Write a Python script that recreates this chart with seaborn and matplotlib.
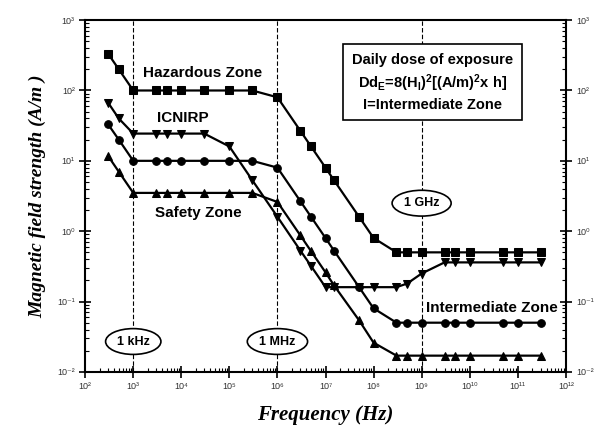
import numpy as np
import pandas as pd
import matplotlib
matplotlib.use("Agg")
import matplotlib.pyplot as plt
import seaborn as sns
from matplotlib.ticker import LogLocator, FixedLocator, FixedFormatter, NullFormatter

# frequencies (Hz) shared by all four curves
freq = [3e2, 5e2, 1e3, 3e3, 5e3, 1e4, 3e4, 1e5, 3e5, 1e6, 3e6, 5e6, 1e7, 1.5e7,
        5e7, 1e8, 3e8, 5e8, 1e9, 3e9, 5e9, 1e10, 5e10, 1e11, 3e11]

hazardous = [333, 200, 100, 100, 100, 100, 100, 100, 100, 80, 26.7, 16, 8, 5.3,
             1.6, 0.8, 0.5, 0.5, 0.5, 0.5, 0.5, 0.5, 0.5, 0.5, 0.5]
icnirp = [67, 40, 24.4, 24.4, 24.4, 24.4, 24.4, 16, 5.3, 1.6, 0.53, 0.32, 0.16, 0.16,
          0.16, 0.16, 0.16, 0.18, 0.25, 0.36, 0.36, 0.36, 0.36, 0.36, 0.36]
intermediate = [33, 20, 10, 10, 10, 10, 10, 10, 10, 8, 2.67, 1.6, 0.8, 0.53,
                0.16, 0.08, 0.05, 0.05, 0.05, 0.05, 0.05, 0.05, 0.05, 0.05, 0.05]
safety = [11.7, 7, 3.5, 3.5, 3.5, 3.5, 3.5, 3.5, 3.5, 2.6, 0.87, 0.52, 0.26, 0.17,
          0.054, 0.026, 0.017, 0.017, 0.017, 0.017, 0.017, 0.017, 0.017, 0.017, 0.017]

xtick_vals = [1e2, 1e3, 1e4, 1e5, 1e6, 1e7, 1e8, 1e9, 1e10, 1e11, 1e12]
xtick_labels = ["10²", "10³", "10⁴", "10⁵", "10⁶", "10⁷", "10⁸", "10⁹", "10¹⁰", "10¹¹", "10¹²"]
ytick_vals = [1e-2, 1e-1, 1e0, 1e1, 1e2, 1e3]
ytick_labels = ["10⁻²", "10⁻¹", "10⁰", "10¹", "10²", "10³"]

df = pd.DataFrame({
    "freq": freq * 4,
    "H": hazardous + icnirp + intermediate + safety,
    "curve": (["Hazardous"] * len(freq) + ["ICNIRP"] * len(freq)
              + ["Intermediate"] * len(freq) + ["Safety"] * len(freq)),
})

sns.set_style("ticks")
plt.rcParams["font.family"] = ["Liberation Sans", "DejaVu Sans"]
plt.rcParams["text.color"] = "black"
plt.rcParams["axes.labelcolor"] = "black"
plt.rcParams["mathtext.fontset"] = "custom"
plt.rcParams["mathtext.rm"] = "Liberation Sans:bold"
plt.rcParams["mathtext.default"] = "rm"

fig, ax = plt.subplots(figsize=(6, 4.38), dpi=100)
fig.subplots_adjust(left=0.142, right=0.943, bottom=0.151, top=0.954)

for f in [1e3, 1e6, 1e9]:
    ax.axvline(f, color="black", lw=0.8, ls=(0, (4, 2)), zorder=1)

sns.lineplot(data=df, x="freq", y="H", hue="curve", style="curve",
             palette=["black"] * 4, dashes=False, sort=False,
             markers={"Hazardous": "s", "ICNIRP": "v", "Intermediate": "o", "Safety": "^"},
             markersize=5.5, markeredgecolor="black", lw=1.6, legend=False, ax=ax, zorder=3)

ax.set_xscale("log")
ax.set_yscale("log")
ax.set_xlim(1e2, 1e12)
ax.set_ylim(1e-2, 1e3)

ax.xaxis.set_major_locator(FixedLocator(xtick_vals))
ax.xaxis.set_major_formatter(FixedFormatter(xtick_labels))
ax.yaxis.set_major_locator(FixedLocator(ytick_vals))
ax.yaxis.set_major_formatter(FixedFormatter(ytick_labels))
ax.xaxis.set_minor_locator(LogLocator(base=10, subs=np.arange(2, 10), numticks=20))
ax.yaxis.set_minor_locator(LogLocator(base=10, subs=np.arange(2, 10), numticks=20))
ax.xaxis.set_minor_formatter(NullFormatter())
ax.yaxis.set_minor_formatter(NullFormatter())

ax.tick_params(which="major", direction="inout", length=8, width=1.2, labelsize=6.5,
               right=True, labelright=True, top=False, color="black", labelcolor="#333333")
ax.tick_params(which="minor", direction="in", length=3, width=0.8,
               right=True, top=False, color="black")
for s in ax.spines.values():
    s.set_linewidth(1.5)
    s.set_color("black")

ax.set_xlabel("Frequency (Hz)", family="Liberation Serif", style="italic",
              weight="bold", fontsize=15, labelpad=10)
ax.set_ylabel("Magnetic field strength (A/m )", family="Liberation Serif", style="italic",
              weight="bold", fontsize=14, labelpad=8)

# zone labels
ax.text(2.8e4, 178, "Hazardous Zone", ha="center", va="center", fontsize=11, weight="bold")
ax.text(1.1e4, 40, "ICNIRP", ha="center", va="center", fontsize=11, weight="bold")
ax.text(2.3e4, 1.8, "Safety Zone", ha="center", va="center", fontsize=11, weight="bold")
ax.text(2.9e10, 0.08, "Intermediate Zone", ha="center", va="center", fontsize=11,
        weight="bold", bbox=dict(fc="white", ec="none", pad=0.5), zorder=4)

ax.text(1.7e9, 131, "Daily dose of exposure\nDd$_E$=8(H$_I$)$^2$[(A/m)$^2$x h]\nI=Intermediate Zone",
        ha="center", va="center", fontsize=10.5, weight="bold", linespacing=1.35,
        bbox=dict(boxstyle="square,pad=0.6", fc="white", ec="black", lw=1.2), zorder=5)

pill = dict(boxstyle="ellipse,pad=0.25", fc="white", ec="black", lw=1.2)
ax.text(1e3, 0.027, "1 kHz", ha="center", va="center", fontsize=9, weight="bold", bbox=pill, zorder=5)
ax.text(1e6, 0.027, "1 MHz", ha="center", va="center", fontsize=9, weight="bold", bbox=pill, zorder=5)
ax.text(1e9, 2.5, "1 GHz", ha="center", va="center", fontsize=9, weight="bold", bbox=pill, zorder=5)

fig.savefig("out.png", dpi=100)
